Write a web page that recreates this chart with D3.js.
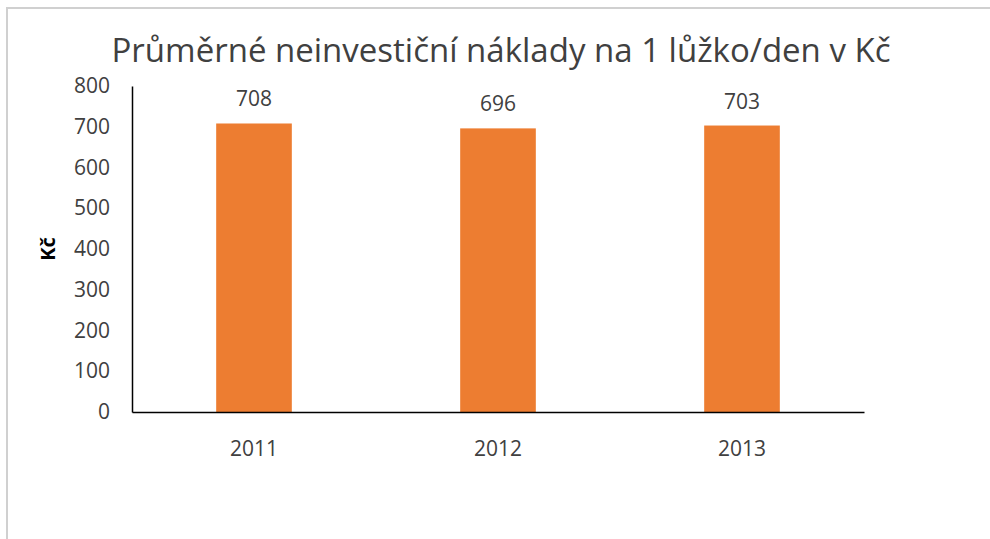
<!DOCTYPE html>
<html lang="cs">
<head>
<meta charset="UTF-8">
<title>Náklady</title>
<script src="https://d3js.org/d3.v7.min.js"></script>
<style>
  body { margin: 0; background: #fff; }
  svg text { font-family: "Open Sans", sans-serif; fill: #404040; }
</style>
</head>
<body>
<div class="chart"></div>
<script>
// data
const years = ['2011', '2012', '2013']
const costs = [708, 696, 703]
const yTicks = [0, 100, 200, 300, 400, 500, 600, 700, 800]

const width = 990, height = 539
const plot = { left: 132, right: 864, top: 86, bottom: 412 }

const svg = d3.select('.chart').append('svg')
    .attr('width', width)
    .attr('height', height)

// frame (cut off at right and bottom)
svg.append('rect')
    .attr('x', 7).attr('y', 8)
    .attr('width', 1000).attr('height', 600)
    .attr('fill', 'none')
    .attr('stroke', '#d0d0d0')
    .attr('stroke-width', 2)

const x = d3.scaleBand()
    .domain(years)
    .range([plot.left, plot.right])
    .paddingInner(0.69)
    .paddingOuter(0.345)

const y = d3.scaleLinear()
    .domain([0, 800])
    .range([plot.bottom, plot.top])

// title
svg.append('text')
    .attr('x', 501).attr('y', 62)
    .attr('text-anchor', 'middle')
    .style('font-size', '33px')
    .text('Průměrné neinvestiční náklady na 1 lůžko/den v Kč')

// bars
svg.selectAll('.bar')
    .data(costs)
    .join('rect')
    .attr('class', 'bar')
    .attr('x', (d, i) => x(years[i]))
    .attr('width', x.bandwidth())
    .attr('y', d => y(d))
    .attr('height', d => y(0) - y(d))
    .attr('fill', '#ED7D31')

// value labels
svg.selectAll('.val')
    .data(costs)
    .join('text')
    .attr('class', 'val')
    .attr('x', (d, i) => x(years[i]) + x.bandwidth() / 2)
    .attr('y', d => y(d) - 17)
    .attr('text-anchor', 'middle')
    .style('font-size', '21px')
    .text(d => d)

// y axis
const yAxis = d3.axisLeft(y).tickValues(yTicks).tickSize(0).tickPadding(22)
const yg = svg.append('g')
    .attr('transform', `translate(${plot.left},0)`)
    .call(yAxis)
yg.select('.domain').attr('stroke', '#000').attr('stroke-width', 1.5)
yg.selectAll('text').style('font-size', '21px').attr('fill', '#404040')

// x axis
const xAxis = d3.axisBottom(x).tickSize(0).tickPadding(29)
const xg = svg.append('g')
    .attr('transform', `translate(0,${plot.bottom})`)
    .call(xAxis)
xg.select('.domain').attr('stroke', '#000').attr('stroke-width', 1.5)
xg.selectAll('text').style('font-size', '21px').attr('fill', '#404040')

// y axis title
svg.append('text')
    .attr('transform', `translate(55,${(plot.top + plot.bottom) / 2}) rotate(-90)`)
    .attr('text-anchor', 'middle')
    .style('font-size', '20px')
    .style('font-weight', 'bold')
    .style('fill', '#000')
    .text('Kč')
</script>
</body>
</html>
